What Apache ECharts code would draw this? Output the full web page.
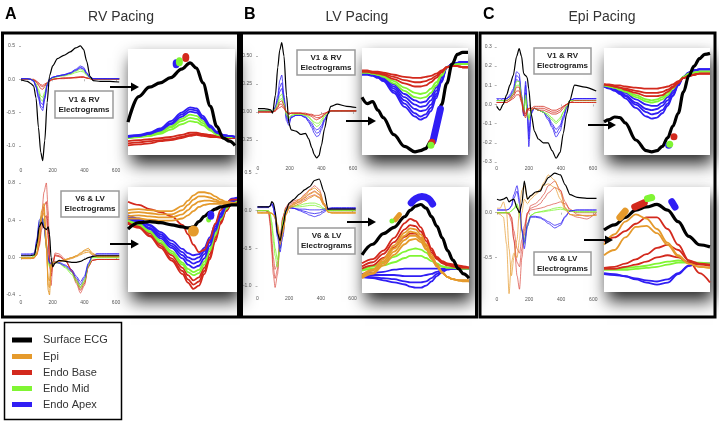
<!DOCTYPE html>
<html><head><meta charset="utf-8">
<script src="https://cdn.jsdelivr.net/npm/echarts@6/dist/echarts.min.js"></script>
<style>html,body{margin:0;padding:0;background:#fff}#c{width:719px;height:422px}</style>
</head><body><div id="c"></div>
<script>
// ---------- legend / categories ----------
const legendNames = ['Surface ECG','Epi','Endo Base','Endo Mid','Endo Apex'];
const panelLetters = ['A','B','C'];
const panelTitles = ['RV Pacing','LV Pacing','Epi Pacing'];
const boxTop = ['V1 & RV','Electrograms'];
const boxBottom = ['V6 & LV','Electrograms'];
const X_TICKS = [0,200,400,600];

// ---------- A top (RV pacing, V1 & RV) ----------
const A1_t = [0,40,60,80,95,110,125,137,150,165,180,200,230,270,310,345,375,395,415,435,455,500,560,620];
const A1_black = [-0.01,-0.03,-0.06,-0.1,-0.28,-0.72,-1.1,-1.22,-0.92,-0.35,0.05,0.2,0.31,0.36,0.41,0.47,0.5,0.45,0.27,0.05,-0.02,-0.03,-0.03,-0.04];
const A1_blue1 = [0.01,0.01,0,-0.03,-0.12,-0.28,-0.43,-0.47,-0.3,-0.1,0,0.03,0.05,0.07,0.1,0.15,0.2,0.18,0.1,0.03,0.01,0.01,0.01,0.01];
const A1_blue2 = [0.01,0.01,0,-0.03,-0.11,-0.26,-0.4,-0.43,-0.28,-0.09,0,0.03,0.05,0.07,0.09,0.14,0.18,0.16,0.09,0.03,0.01,0.01,0.01,0.01];
const A1_blue3 = [0.01,0.01,0,-0.02,-0.1,-0.22,-0.35,-0.38,-0.25,-0.08,0,0.03,0.05,0.06,0.09,0.13,0.17,0.15,0.08,0.03,0.01,0.01,0.01,0.01];
const A1_green1 = [0.01,0.01,0,-0.02,-0.08,-0.18,-0.3,-0.33,-0.22,-0.08,0,0.02,0.04,0.06,0.08,0.12,0.15,0.13,0.07,0.02,0.01,0.01,0.01,0.01];
const A1_green2 = [0.01,0.01,0,-0.02,-0.07,-0.15,-0.25,-0.27,-0.19,-0.07,0,0.02,0.04,0.05,0.07,0.1,0.12,0.11,0.06,0.02,0.01,0.01,0.01,0.01];
const A1_red1 = [0,0,0,-0.01,-0.04,-0.09,-0.14,-0.15,-0.11,-0.06,-0.03,0,0.01,0.02,0.02,0.03,0.04,0.04,0.02,0.01,0,0,0,0];
const A1_red2 = [0,0,0,-0.01,-0.03,-0.07,-0.1,-0.11,-0.09,-0.05,-0.02,0,0.01,0.02,0.02,0.03,0.03,0.03,0.02,0.01,0,0,0,0];
const A1_red3 = [0,0,0,0,-0.02,-0.05,-0.08,-0.09,-0.07,-0.05,-0.02,0,0.01,0.01,0.02,0.02,0.03,0.03,0.02,0.01,0,0,0,0];

// ---------- A bottom (RV pacing, V6 & LV) ----------
const A2_t = [0,60,85,100,115,130,145,160,172,180,190,200,215,240,280,320,350,375,400,425,450,480,540,620];
const A2_black = [0.02,0.02,0.03,0.15,0.33,0.38,0.32,0.3,0.33,0.25,0,-0.1,-0.06,-0.03,-0.04,-0.05,-0.05,-0.04,-0.02,0,0.01,0.02,0.02,0.02];
const A2_blue1 = [0.04,0.04,0.05,0.2,0.4,0.44,0.35,0.15,0,-0.05,-0.06,-0.05,-0.04,-0.05,-0.08,-0.13,-0.2,-0.26,-0.2,-0.06,0.02,0.04,0.04,0.04];
const A2_blue2 = [0.03,0.03,0.04,0.18,0.37,0.41,0.33,0.13,-0.01,-0.06,-0.07,-0.06,-0.05,-0.06,-0.09,-0.15,-0.22,-0.29,-0.22,-0.07,0.02,0.04,0.04,0.04];
const A2_green1 = [0,0,0.02,0.15,0.38,0.45,0.38,0.1,-0.05,-0.1,-0.08,-0.06,-0.05,-0.06,-0.1,-0.16,-0.24,-0.31,-0.24,-0.08,0,0,0,0];
const A2_green2 = [0,0,0.02,0.14,0.35,0.42,0.36,0.12,-0.03,-0.08,-0.07,-0.06,-0.05,-0.06,-0.11,-0.18,-0.26,-0.33,-0.26,-0.09,0,0,0,0];
const A2_red1 = [-0.01,-0.01,0,0.05,0.2,0.45,0.7,0.8,0.5,0,-0.3,-0.1,0.05,0.04,-0.02,-0.15,-0.28,-0.38,-0.3,-0.1,-0.03,-0.02,-0.02,-0.02];
const A2_red2 = [-0.01,-0.01,0,0.04,0.15,0.38,0.55,0.6,0.3,-0.05,-0.2,-0.08,0.03,0.02,-0.03,-0.14,-0.26,-0.35,-0.28,-0.1,-0.03,-0.02,-0.02,-0.02];
const A2_red3 = [-0.01,-0.01,0,0.03,0.12,0.3,0.42,0.45,0.2,-0.08,-0.15,-0.06,0.02,0.01,-0.03,-0.13,-0.24,-0.32,-0.26,-0.09,-0.03,-0.02,-0.02,-0.02];
const A2_orange1 = [0,0,0,0.05,0.25,0.5,0.58,0.2,-0.35,-0.4,-0.1,-0.05,-0.05,-0.04,-0.02,0,0.02,0.05,0.08,0.1,0.05,0.02,0.02,0.02];
const A2_orange2 = [-0.01,-0.01,0,0.04,0.22,0.45,0.52,0.15,-0.3,-0.32,-0.08,-0.05,-0.05,-0.04,-0.02,0,0.02,0.04,0.07,0.08,0.04,0.01,0.01,0.01];
const A2_orange3 = [-0.01,-0.01,0,0.03,0.2,0.42,0.48,0.1,-0.22,-0.25,-0.07,-0.05,-0.05,-0.04,-0.03,-0.01,0.01,0.03,0.05,0.06,0.03,0.01,0.01,0.01];

// ---------- B top (LV pacing, V1 & RV) ----------
const B1_t = [0,40,80,92,110,125,137,150,164,180,195,210,240,270,300,320,340,355,370,385,400,420,440,460,500,560,620];
const B1_black = [0.03,0.03,0.02,-0.01,0.15,0.4,0.55,0.62,0.5,0.15,-0.1,-0.16,-0.17,-0.2,-0.19,-0.24,-0.32,-0.38,-0.41,-0.39,-0.3,-0.15,-0.02,0.05,0.07,0.05,0.04];
const B1_blue1 = [0.01,0.01,0.01,0,0.05,0.15,0.28,0.33,0.15,-0.08,-0.12,-0.05,-0.03,-0.03,-0.05,-0.09,-0.14,-0.19,-0.22,-0.21,-0.16,-0.08,-0.02,0.01,0.01,0.01,0.01];
const B1_blue2 = [0.01,0.01,0.01,0,0.04,0.12,0.22,0.26,0.12,-0.06,-0.1,-0.05,-0.03,-0.03,-0.05,-0.08,-0.12,-0.16,-0.19,-0.18,-0.14,-0.07,-0.02,0.01,0.01,0.01,0.01];
const B1_blue3 = [0.01,0.01,0.01,0,0.04,0.1,0.18,0.21,0.1,-0.04,-0.08,-0.04,-0.03,-0.03,-0.04,-0.07,-0.1,-0.14,-0.16,-0.15,-0.12,-0.06,-0.02,0.01,0.01,0.01,0.01];
const B1_green1 = [0.01,0.01,0.01,0,0.03,0.08,0.14,0.16,0.08,-0.03,-0.06,-0.03,-0.02,-0.02,-0.03,-0.05,-0.08,-0.11,-0.13,-0.12,-0.09,-0.04,-0.01,0.01,0.01,0.01,0.01];
const B1_green2 = [0.01,0.01,0.01,0,0.03,0.07,0.11,0.12,0.06,-0.02,-0.05,-0.03,-0.02,-0.02,-0.03,-0.04,-0.07,-0.09,-0.1,-0.1,-0.07,-0.03,-0.01,0.01,0.01,0.01,0.01];
const B1_red1 = [0,0,0,0,0.02,0.05,0.09,0.1,0.06,0,-0.02,-0.01,-0.01,-0.01,-0.02,-0.03,-0.04,-0.06,-0.07,-0.06,-0.05,-0.02,0,0.01,0.01,0.01,0.01];
const B1_red2 = [0,0,0,0,0.01,0.04,0.07,0.07,0.04,0,-0.02,-0.01,-0.01,-0.01,-0.02,-0.02,-0.03,-0.04,-0.05,-0.05,-0.04,-0.02,0,0.01,0.01,0.01,0.01];
const B1_red3 = [0,0,0,0,0.01,0.03,0.04,0.05,0.03,0,-0.01,-0.01,-0.01,-0.01,-0.01,-0.02,-0.02,-0.03,-0.03,-0.03,-0.02,-0.01,0,0.01,0.01,0.01,0.01];

// ---------- B bottom (LV pacing, V6 & LV) ----------
const B2_t = [0,50,70,80,90,100,111,126,143,160,180,200,230,265,300,330,360,390,420,445,470,520,620];
const B2_black = [0.05,0.05,0.05,0.06,0.12,0.1,0,-0.3,-0.4,-0.2,0,0.1,0.15,0.22,0.28,0.32,0.4,0.42,0.25,0.02,0.02,0.02,0.02];
const B2_red1 = [0,0,-0.02,-0.2,-0.55,-0.85,-1.02,-0.85,-0.4,-0.1,0.05,0.1,0.13,0.15,0.22,0.28,0.33,0.28,0.1,0,0,0,0];
const B2_red2 = [0,0,-0.02,-0.15,-0.45,-0.75,-0.9,-0.78,-0.38,-0.1,0.04,0.08,0.11,0.13,0.18,0.23,0.26,0.22,0.08,0,0,0,0];
const B2_red3 = [0,0,-0.01,-0.1,-0.35,-0.62,-0.78,-0.7,-0.35,-0.08,0.03,0.06,0.09,0.11,0.15,0.19,0.21,0.18,0.07,0,0,0,0];
const B2_green1 = [0,0,0,-0.05,-0.2,-0.4,-0.6,-0.75,-0.5,-0.15,0.02,0.05,0.06,0.07,0.09,0.1,0.1,0.08,0.03,0,0,0,0];
const B2_green2 = [0,0,0,-0.04,-0.15,-0.32,-0.5,-0.65,-0.45,-0.13,0.01,0.04,0.05,0.05,0.06,0.07,0.07,0.05,0.02,0,0,0,0];
const B2_blue1 = [0.05,0.05,0.05,0.07,0.1,0.05,-0.1,-0.35,-0.55,-0.3,0,0.05,0.03,0,-0.03,-0.06,-0.08,-0.06,-0.02,0.02,0.03,0.03,0.03];
const B2_blue2 = [0.04,0.04,0.04,0.06,0.08,0.03,-0.1,-0.3,-0.45,-0.25,0,0.04,0.03,0.01,-0.01,-0.03,-0.04,-0.03,0,0.02,0.03,0.03,0.03];
const B2_blue3 = [0.05,0.05,0.05,0.06,0.09,0.06,-0.05,-0.25,-0.5,-0.35,-0.02,0.03,0.03,0.02,0.02,0.01,0.01,0.01,0.02,0.03,0.04,0.04,0.04];
const B2_orange1 = [-0.03,-0.03,-0.03,-0.03,-0.04,-0.06,-0.1,-0.25,-0.45,-0.3,-0.05,0.05,0.1,0.15,0.2,0.27,0.3,0.25,0.1,-0.02,-0.03,-0.03,-0.03];
const B2_orange2 = [-0.03,-0.03,-0.03,-0.03,-0.04,-0.05,-0.08,-0.22,-0.4,-0.28,-0.05,0.04,0.08,0.12,0.17,0.22,0.25,0.21,0.08,-0.02,-0.03,-0.03,-0.03];
const B2_orange3 = [-0.03,-0.03,-0.03,-0.03,-0.03,-0.05,-0.07,-0.18,-0.35,-0.25,-0.05,0.03,0.06,0.09,0.13,0.17,0.2,0.17,0.07,-0.02,-0.03,-0.03,-0.03];

// ---------- C top (Epi pacing, V1 & RV) ----------
const C1_t = [0,20,40,62,82,103,124,140,155,168,180,190,200,215,235,260,290,320,345,370,395,415,435,455,485,550,620];
const C1_black = [-0.01,-0.03,0,0.05,0.1,0.15,0.25,0.29,0.25,0.16,0.15,0.14,0.08,-0.05,-0.14,-0.18,-0.2,-0.2,-0.24,-0.28,-0.25,-0.15,-0.05,0.02,0.1,0.09,0.07];
const C1_blue1 = [0.03,0.03,0.03,0.03,0.05,0.08,0.17,0.16,0.05,-0.05,0.12,0,-0.22,-0.05,-0.02,-0.03,-0.04,-0.08,-0.12,-0.17,-0.14,-0.08,-0.02,0.02,0.03,0.03,0.03];
const C1_blue2 = [0.03,0.02,0.03,0.03,0.04,0.07,0.15,0.14,0.04,-0.04,0.1,-0.02,-0.18,-0.04,-0.02,-0.03,-0.04,-0.07,-0.11,-0.15,-0.12,-0.07,-0.02,0.02,0.03,0.03,0.03];
const C1_blue3 = [0.02,0.02,0.02,0.03,0.04,0.06,0.13,0.12,0.03,-0.06,0.06,-0.04,-0.14,-0.04,-0.02,-0.03,-0.04,-0.06,-0.1,-0.13,-0.11,-0.06,-0.01,0.02,0.03,0.03,0.03];
const C1_green1 = [0.02,0.02,0.02,0.02,0.03,0.06,0.12,0.12,0.04,-0.03,0.05,-0.05,-0.08,-0.03,-0.02,-0.03,-0.04,-0.06,-0.08,-0.1,-0.08,-0.04,-0.01,0.02,0.02,0.02,0.02];
const C1_green2 = [0.02,0.02,0.02,0.02,0.03,0.05,0.1,0.1,0.03,-0.04,0.03,-0.04,-0.07,-0.03,-0.02,-0.03,-0.04,-0.05,-0.07,-0.09,-0.07,-0.04,-0.01,0.02,0.02,0.02,0.02];
const C1_red1 = [0.01,0.01,0.01,0.02,0.03,0.05,0.09,0.09,0.03,-0.03,-0.05,-0.02,-0.03,-0.03,-0.02,-0.03,-0.03,-0.04,-0.05,-0.05,-0.04,-0.02,0,0.01,0.02,0.02,0.02];
const C1_red2 = [0.01,0.01,0.01,0.01,0.02,0.04,0.07,0.07,0.02,-0.04,-0.06,-0.03,-0.02,-0.02,-0.02,-0.02,-0.02,-0.03,-0.04,-0.04,-0.03,-0.01,0,0.01,0.01,0.01,0.01];
const C1_red3 = [0.01,0.01,0.01,0.01,0.02,0.03,0.05,0.05,0.01,-0.05,-0.07,-0.04,-0.02,-0.02,-0.01,-0.01,-0.01,-0.02,-0.03,-0.03,-0.02,-0.01,0,0.01,0.01,0.01,0.01];

// ---------- C bottom (Epi pacing, V6 & LV) ----------
const C2_t = [0,20,40,60,75,90,105,125,140,155,170,190,210,240,270,290,320,360,395,425,455,500,560,620];
const C2_black = [0.15,0.14,0.15,0.17,0.12,0.14,0.15,0.05,0,0.1,0.35,0.15,0.19,0.23,0.24,0.31,0.39,0.44,0.42,0.31,0.2,0.17,0.16,0.16];
const C2_blue1 = [0.03,0.03,0.03,0.03,0.04,0.08,0.2,0.3,0.15,-0.2,-0.4,-0.15,-0.05,-0.05,-0.06,-0.08,-0.12,-0.17,-0.14,-0.05,0.02,0.03,0.03,0.03];
const C2_blue2 = [0.03,0.03,0.03,0.03,0.04,0.07,0.16,0.24,0.1,-0.18,-0.33,-0.12,-0.04,-0.04,-0.05,-0.07,-0.1,-0.14,-0.12,-0.04,0.02,0.03,0.03,0.03];
const C2_green1 = [0,0,0,0,0,0.02,0.05,0.1,0,-0.2,-0.35,-0.15,-0.03,0,0.01,0.02,0.03,0.05,0.06,0.04,0.02,0.01,0.01,0.01];
const C2_green2 = [0,0,0,0,0,0.02,0.04,0.08,-0.02,-0.2,-0.3,-0.12,-0.03,0,0.01,0.01,0.02,0.03,0.04,0.03,0.02,0.01,0.01,0.01];
const C2_red1 = [0,0,0,0,0,-0.05,-0.3,-0.7,-0.85,-0.5,-0.25,-0.02,0.08,0.1,0.15,0.2,0.3,0.35,0.25,0.05,-0.02,-0.05,-0.07,0];
const C2_red2 = [0,0,0,0,-0.02,-0.1,-0.3,-0.55,-0.6,-0.4,-0.2,0,0.05,0.07,0.1,0.15,0.22,0.28,0.25,0.12,0.02,0,0,0];
const C2_red3 = [0,0,0,0,-0.01,-0.05,-0.2,-0.4,-0.45,-0.3,-0.15,0,0.03,0.04,0.05,0.06,0.08,0.1,0.12,0.1,0.04,-0.02,-0.04,-0.02];
const C2_orange1 = [0,-0.02,-0.05,-0.35,-0.9,-0.55,-0.45,-0.5,-0.3,0,0.15,0.1,0.15,0.2,0.25,0.33,0.42,0.36,0.22,0.06,-0.02,-0.03,-0.03,-0.03];
const C2_orange2 = [0.05,0.05,0.12,0,-0.4,-0.7,-0.5,-0.3,0.05,0.25,0.3,0.15,0.18,0.22,0.26,0.3,0.32,0.28,0.15,0.03,-0.02,-0.03,-0.03,-0.03];

// ---------- zoomed insets (normalised 0-100 coordinates) ----------
const IA1_u = [0,10,20,30,40,50,58,64,70,77,83,89,95,100];
const IA1_black = [31,55,64,68,73,81,87,82,68,46,27,16,13,9];
const IA1_blue1 = [18,19,21,25,32,40,45,44,37,28,22,19,18,17];
const IA1_blue2 = [17,18,20,24,30,38,43,42,35,27,21,19,18,17];
const IA1_blue3 = [17,18,20,23,29,36,41,40,34,26,21,18,18,17];
const IA1_green1 = [17,18,19,22,27,34,38,37,32,25,20,18,17,17];
const IA1_green2 = [16,17,18,21,26,32,35,34,30,24,20,18,17,17];
const IA1_green3 = [16,17,18,20,24,29,32,31,28,23,19,18,17,17];
const IA1_red1 = [13,14,15,16,17,19,21,21,20,19,18,17,17,17];
const IA1_red2 = [11,12,13,14,15,17,19,20,19,18,17,17,16,16];
const IA1_red3 = [9,10,11,13,14,16,18,19,18,17,17,16,16,16];
const IA1_dotBlue = [45,86], IA1_dotGreen = [48,88], IA1_dotRed = [54,92];

const IA2_u = [0,10,20,30,40,50,55,60,65,70,75,80,85,90,95,100];
const IA2_black = [60,66,67,66,64,62,61,62,67,72,76,79,81,82,83,83];
const IA2_orange1 = [78,79,78,77,77,82,87,92,95,95,94,91,88,86,85,84];
const IA2_orange2 = [75,76,75,74,74,78,83,88,91,91,90,88,86,85,84,84];
const IA2_orange3 = [72,73,72,71,71,74,78,83,86,87,87,86,85,84,84,84];
const IA2_orange4 = [70,70,69,68,68,70,73,77,81,83,84,84,84,84,84,84];
const IA2_red1 = [86,83,79,76,72,64,55,45,38,40,50,65,78,85,88,88];
const IA2_blue1 = [73,70,64,57,49,41,37,35,36,42,52,64,75,84,89,90];
const IA2_blue2 = [72,69,63,55,46,38,33,31,33,39,49,62,74,83,88,89];
const IA2_blue3 = [71,68,61,53,44,35,30,27,29,36,47,60,72,82,87,88];
const IA2_blue4 = [70,67,60,51,42,32,26,23,25,32,44,58,71,81,86,88];
const IA2_green1 = [69,65,58,49,39,28,22,19,21,29,41,56,70,80,85,87];
const IA2_green2 = [68,64,57,47,37,26,19,16,18,26,39,54,69,79,85,87];
const IA2_red2 = [67,63,56,46,35,23,16,11,14,23,36,52,67,78,84,86];
const IA2_red3 = [66,62,54,44,32,20,12,7,10,20,33,50,66,77,84,86];
const IA2_red4 = [65,61,53,42,30,17,9,3,6,17,31,48,65,77,84,86];
const IA2_dotEpi = [60,58], IA2_dotGreen = [74,69], IA2_dotBlue = [76,73];

const IB1_u = [0,5,10,15,20,30,40,50,55,60,65,70,75,80,85,90,95,100];
const IB1_black = [54,48,50,42,35,19,8,3,4,6,13,26,47,67,85,94,96,96];
const IB1_red1 = [79,79,78,78,77,75,73,72,72,73,74,76,79,82,83,83,82,82];
const IB1_red2 = [78,78,77,77,76,73,70,68,68,69,71,74,78,82,83,83,82,82];
const IB1_red3 = [78,78,77,76,75,71,67,64,64,65,68,72,77,82,83,83,82,82];
const IB1_green1 = [77,77,76,75,74,69,63,58,57,58,62,68,75,82,84,85,85,85];
const IB1_green2 = [77,77,76,75,73,67,60,54,53,54,58,65,74,82,84,85,85,85];
const IB1_blue1 = [77,77,76,75,73,66,57,51,49,50,55,63,73,82,85,86,87,87];
const IB1_blue2 = [76,76,75,74,72,64,54,47,45,46,51,60,72,82,85,86,87,87];
const IB1_blue3 = [76,76,75,74,71,62,51,43,41,42,47,57,70,82,85,86,87,87];
const IB1_blue4 = [76,76,75,73,70,60,48,39,36,38,44,55,69,82,85,86,87,87];
const IB1_blue5 = [75,75,74,72,69,58,45,36,33,35,41,53,68,82,85,86,87,87];
const IB1_streakBlue = [[74,43],[67,13]];
const IB1_dotRed = [66,12], IB1_dotGreen = [65,9];

const IB2_u = [0,10,20,30,40,45,50,55,60,65,70,75,80,85,90,95,100];
const IB2_black = [36,46,56,62,72,78,82,83.5,80,72,63,52,40,31,23,18,14];
const IB2_red1 = [28,32,40,52,66,70,68,62,52,42,34,30,28,27,26,25,24];
const IB2_red2 = [25,29,37,48,60,64,63,58,49,40,33,29,27,26,25,24,24];
const IB2_red3 = [23,26,33,43,53,56,56,52,45,38,32,28,26,25,24,24,24];
const IB2_orange1 = [17,22,32,45,57,61,60,55,46,36,27,20,15,13,12,12,12];
const IB2_orange2 = [16,21,30,42,54,58,57,52,44,34,26,19,15,13,12,12,12];
const IB2_orange3 = [15,19,28,39,50,54,54,50,42,33,25,19,15,13,12,12,11];
const IB2_orange4 = [14,18,26,36,46,50,51,48,41,32,25,19,15,13,12,11,11];
const IB2_green1 = [22,25,29,34,39,41,42,41,38,33,28,25,24,24,23,23,23];
const IB2_green2 = [21,23,26,29,33,35,35,35,33,30,27,25,24,24,23,23,23];
const IB2_blue1 = [18,19,20,22,23,23,23,23,23,23,23,23,23,23,23,23,23];
const IB2_blue2 = [17,17,17,17,16,16,16,16,17,18,20,22,23,23,23,23,23];
const IB2_blue3 = [16,15,14,13,11,10,10,10,11,14,18,21,23,23,23,23,23];
const IB2_blue4 = [15,14,12,10,8,6,5,5,7,11,16,20,22,23,23,23,23];
const IB2_arcBlue = [[46,85],[50,89],[56,91],[62,89],[66,84]];
const IB2_pillEpi = [[31,69],[35,74]];
const IB2_dotGreen = [28,68];

const IC1_u = [0,5,10,15,20,30,40,45,50,55,60,65,70,75,80,85,90,95,100];
const IC1_black = [31,33,35.5,35,30,14,4,3,4,8,16,27,39,59,74,83,90,94,95];
const IC1_red1 = [66,66,65,65,64,63,62,62,62,63,64,66,69,72,74,75,76,76,76];
const IC1_red2 = [66,65,64,63,62,60,58,58,58,59,61,64,68,72,74,75,76,76,76];
const IC1_red3 = [66,65,64,63,61,58,55,55,55,56,59,63,67,72,74,75,76,76,76];
const IC1_green1 = [65,64,63,62,60,56,52,51,52,54,58,63,68,73,76,77,78,78,78];
const IC1_green2 = [65,64,63,61,59,54,50,49,50,52,56,62,68,73,76,77,78,78,78];
const IC1_blue1 = [65,64,62,60,58,52,47,46,46,49,54,60,67,73,77,79,80,80,80];
const IC1_blue2 = [65,63,61,59,56,49,43,42,43,46,51,58,66,73,77,79,80,80,80];
const IC1_blue3 = [64,63,61,58,55,47,40,38,39,42,48,56,65,73,77,79,80,80,80];
const IC1_blue4 = [64,62,60,57,53,44,36,34,35,39,46,55,65,73,77,79,80,80,80];
const IC1_dotBlue = [61,9], IC1_dotGreen = [62,10], IC1_dotRed = [66,17];

const IC2_u = [0,10,20,30,40,50,60,70,80,90,100];
const IC2_black = [59,64,71,78,81,83.5,78,67,53,45,43];
const IC2_orange1 = [45,55,67,74,70,60,47,35,27,24,23];
const IC2_orange2 = [35,40,52,62,63,56,45,34,27,24,23];
const IC2_red1 = [48,52,58,65,71,71,60,45,30,18,9];
const IC2_red2 = [23,24,27,31,36,42,45,40,30,27,26];
const IC2_red3 = [22,22,24,26,29,33,35,33,28,26,25];
const IC2_green1 = [22,22,23,24,25,27,29,30,29,28,27];
const IC2_green2 = [21,21,21,22,23,24,26,28,28,27,27];
const IC2_blue1 = [18,17,15,12,9,7,9,17,25,27,27];
const IC2_blue2 = [17,16,15,13,11,10,12,18,25,27,27];
const IC2_pillEpi = [[15,71],[20,77]];
const IC2_pillRed = [[29,81],[38,85]];
const IC2_pillGreen = [[41,89],[45,90]];
const IC2_pillBlue = [[64,86],[67,81]];

// ---------- build ----------
const FONT = '"Liberation Sans", Arial, Helvetica, sans-serif';
const K = '#000000', EPI = '#E59A2C', BASE = '#D3291D', MID = '#80F533', APEX = '#301EF4';
const legendColors = [K, EPI, BASE, MID, APEX];
const grid = [], xAxis = [], yAxis = [], series = [];
const zip = (t, v) => t.map((x, i) => [x, v[i]]);

function mainPlot(rect, yr, ticks, dec, xm, ym, lines) {
  const gi = grid.length;
  grid.push({left: rect[0], top: rect[1], width: rect[2], height: rect[3], show: false});
  xAxis.push({gridIndex: gi, type: 'value', min: 0, max: 620,
    axisLine: {show: false}, splitLine: {show: false},
    axisTick: {show: true, length: 2, lineStyle: {color: '#888', width: 0.6}, customValues: X_TICKS},
    axisLabel: {fontSize: 5, color: '#555', margin: xm, fontFamily: FONT, customValues: X_TICKS}});
  yAxis.push({gridIndex: gi, type: 'value', min: yr[0], max: yr[1],
    axisLine: {show: false}, splitLine: {show: false},
    axisTick: {show: true, length: 2, lineStyle: {color: '#888', width: 0.6}, customValues: ticks},
    axisLabel: {fontSize: 5, color: '#555', margin: ym, fontFamily: FONT, customValues: ticks,
      formatter: v => Number(v).toFixed(dec)}});
  lines.forEach(([t, v, c, w]) => series.push({type: 'line', xAxisIndex: gi, yAxisIndex: gi,
    data: zip(t, v), showSymbol: false, smooth: 0.25, smoothMonotone: 'x', silent: true, animation: false,
    z: c === K ? 6 : 4, lineStyle: {color: c, width: w}}));
}

function inset(rect, u, lines, marks) {
  const gi = grid.length;
  grid.push({left: rect[0], top: rect[1], width: rect[2], height: rect[3], show: true,
    backgroundColor: '#ffffff', borderWidth: 0,
    shadowColor: 'rgba(0,0,0,0.85)', shadowBlur: 16, shadowOffsetX: 3, shadowOffsetY: 9});
  xAxis.push({gridIndex: gi, type: 'value', min: 0, max: 100, show: false});
  yAxis.push({gridIndex: gi, type: 'value', min: 0, max: 100, show: false});
  lines.forEach(([v, c, w]) => series.push({type: 'line', xAxisIndex: gi, yAxisIndex: gi,
    data: zip(u, v), showSymbol: false, smooth: 0.35, smoothMonotone: 'x', silent: true, animation: false,
    z: c === K ? 6 : 4, lineStyle: {color: c, width: w}}));
  marks.forEach(m => {
    if (m.dot) series.push({type: 'scatter', xAxisIndex: gi, yAxisIndex: gi, data: [m.dot],
      symbolSize: m.size, itemStyle: {color: m.color, opacity: 1}, silent: true, animation: false, z: 8});
    else series.push({type: 'line', xAxisIndex: gi, yAxisIndex: gi, data: m.path, showSymbol: false,
      smooth: 0.4, silent: true, animation: false, z: 8,
      lineStyle: {color: m.color, width: m.width, cap: 'round'}});
  });
}

const w0 = 0.8, wk = 1.2;
mainPlot([21, 39.3, 98.2, 126.7], [-1.3, 0.6], [-1, -0.5, 0, 0.5], 1, 2, 6, [
  [A1_t, A1_red1, BASE, w0], [A1_t, A1_red2, BASE, w0], [A1_t, A1_red3, BASE, w0],
  [A1_t, A1_green1, MID, w0], [A1_t, A1_green2, MID, w0],
  [A1_t, A1_blue1, APEX, w0], [A1_t, A1_blue2, APEX, w0], [A1_t, A1_blue3, APEX, w0],
  [A1_t, A1_black, K, wk]]);
mainPlot([21, 178.3, 98.2, 121.3], [-0.45, 0.85], [-0.4, 0, 0.4, 0.8], 1, 1, 6, [
  [A2_t, A2_red1, BASE, 0.6], [A2_t, A2_red2, BASE, w0], [A2_t, A2_red3, BASE, w0],
  [A2_t, A2_green1, MID, w0], [A2_t, A2_green2, MID, w0],
  [A2_t, A2_blue1, APEX, w0], [A2_t, A2_blue2, APEX, w0],
  [A2_t, A2_orange1, EPI, 1], [A2_t, A2_orange2, EPI, 1], [A2_t, A2_orange3, EPI, 1],
  [A2_t, A2_black, K, wk]]);
mainPlot([258, 38.1, 98.2, 124.3], [-0.45, 0.66], [-0.25, 0, 0.25, 0.5], 2, 4, 6, [
  [B1_t, B1_blue1, APEX, w0], [B1_t, B1_blue2, APEX, w0], [B1_t, B1_blue3, APEX, w0],
  [B1_t, B1_green1, MID, w0], [B1_t, B1_green2, MID, w0],
  [B1_t, B1_red1, BASE, w0], [B1_t, B1_red2, BASE, w0], [B1_t, B1_red3, BASE, w0],
  [B1_t, B1_black, K, wk]]);
mainPlot([257.5, 169.2, 98.2, 124.3], [-1.1, 0.55], [-1, -0.5, 0, 0.5], 1, 3, 6, [
  [B2_t, B2_red1, BASE, 0.6], [B2_t, B2_red2, BASE, 0.6], [B2_t, B2_red3, BASE, 0.6],
  [B2_t, B2_green1, MID, w0], [B2_t, B2_green2, MID, w0],
  [B2_t, B2_blue1, APEX, w0], [B2_t, B2_blue2, APEX, w0], [B2_t, B2_blue3, APEX, w0],
  [B2_t, B2_orange1, EPI, 1], [B2_t, B2_orange2, EPI, 1], [B2_t, B2_orange3, EPI, 1],
  [B2_t, B2_black, K, wk]]);
mainPlot([496.7, 41, 99.5, 123], [-0.31, 0.33], [-0.3, -0.2, -0.1, 0, 0.1, 0.2, 0.3], 1, 2, 5, [
  [C1_t, C1_blue1, APEX, w0], [C1_t, C1_blue2, APEX, w0], [C1_t, C1_blue3, APEX, w0],
  [C1_t, C1_green1, MID, w0], [C1_t, C1_green2, MID, w0],
  [C1_t, C1_red1, BASE, w0], [C1_t, C1_red2, BASE, w0], [C1_t, C1_red3, BASE, w0],
  [C1_t, C1_black, K, wk]]);
mainPlot([497, 170.4, 99.5, 126], [-0.93, 0.47], [-0.5, 0], 1, 1, 5, [
  [C2_t, C2_red1, BASE, 0.6], [C2_t, C2_red2, BASE, 0.6], [C2_t, C2_red3, BASE, 0.6],
  [C2_t, C2_green1, MID, w0], [C2_t, C2_green2, MID, w0],
  [C2_t, C2_blue1, APEX, w0], [C2_t, C2_blue2, APEX, w0],
  [C2_t, C2_orange1, EPI, 0.7], [C2_t, C2_orange2, EPI, 0.7],
  [C2_t, C2_black, K, wk]]);

const ik = 3.2, ic = 1.8;
inset([128, 49, 107, 106], IA1_u, [
  [IA1_red1, BASE, ic], [IA1_red2, BASE, ic], [IA1_red3, BASE, ic],
  [IA1_green1, MID, ic], [IA1_green2, MID, ic], [IA1_green3, MID, ic],
  [IA1_blue1, APEX, ic], [IA1_blue2, APEX, ic], [IA1_blue3, APEX, ic],
  [IA1_black, K, ik]], [
  {dot: IA1_dotBlue, color: APEX, size: [7, 9]}, {dot: IA1_dotGreen, color: MID, size: [7, 9]},
  {dot: IA1_dotRed, color: BASE, size: [7, 9]}]);
inset([128, 187, 109, 105], IA2_u, [
  [IA2_red4, BASE, ic], [IA2_red3, BASE, ic], [IA2_red2, BASE, ic],
  [IA2_green2, MID, ic], [IA2_green1, MID, ic],
  [IA2_blue4, APEX, ic], [IA2_blue3, APEX, ic], [IA2_blue2, APEX, ic], [IA2_blue1, APEX, ic],
  [IA2_red1, BASE, ic], [IA2_black, K, ik],
  [IA2_orange4, EPI, ic], [IA2_orange3, EPI, ic], [IA2_orange2, EPI, ic], [IA2_orange1, EPI, ic]], [
  {dot: IA2_dotEpi, color: EPI, size: [11, 11]}, {dot: IA2_dotGreen, color: MID, size: [5, 6]},
  {dot: IA2_dotBlue, color: APEX, size: [7, 9]}]);
inset([362, 48, 106, 107], IB1_u, [
  [IB1_blue5, APEX, ic], [IB1_blue4, APEX, ic], [IB1_blue3, APEX, ic], [IB1_blue2, APEX, ic], [IB1_blue1, APEX, ic],
  [IB1_green2, MID, ic], [IB1_green1, MID, ic],
  [IB1_red3, BASE, ic], [IB1_red2, BASE, ic], [IB1_red1, BASE, ic],
  [IB1_black, K, ik]], [
  {dot: IB1_dotRed, color: BASE, size: 7}, {dot: IB1_dotGreen, color: MID, size: 7},
  {path: IB1_streakBlue, color: APEX, width: 7}]);
inset([362, 187, 107, 106], IB2_u, [
  [IB2_blue4, APEX, ic], [IB2_blue3, APEX, ic], [IB2_blue2, APEX, ic], [IB2_blue1, APEX, ic],
  [IB2_green2, MID, ic], [IB2_green1, MID, ic],
  [IB2_red3, BASE, ic], [IB2_red2, BASE, ic], [IB2_red1, BASE, ic],
  [IB2_orange4, EPI, ic], [IB2_orange3, EPI, ic], [IB2_orange2, EPI, ic], [IB2_orange1, EPI, ic],
  [IB2_black, K, ik]], [
  {path: IB2_arcBlue, color: APEX, width: 7}, {dot: IB2_dotGreen, color: MID, size: 5},
  {path: IB2_pillEpi, color: EPI, width: 5}]);
inset([604, 48, 106, 107], IC1_u, [
  [IC1_blue4, APEX, ic], [IC1_blue3, APEX, ic], [IC1_blue2, APEX, ic], [IC1_blue1, APEX, ic],
  [IC1_green2, MID, ic], [IC1_green1, MID, ic],
  [IC1_red3, BASE, ic], [IC1_red2, BASE, ic], [IC1_red1, BASE, ic],
  [IC1_black, K, ik]], [
  {dot: IC1_dotBlue, color: APEX, size: 7}, {dot: IC1_dotGreen, color: MID, size: 7},
  {dot: IC1_dotRed, color: BASE, size: 7}]);
inset([604, 187, 106, 105], IC2_u, [
  [IC2_blue2, APEX, ic], [IC2_blue1, APEX, ic],
  [IC2_green2, MID, ic], [IC2_green1, MID, ic],
  [IC2_red3, BASE, ic], [IC2_red2, BASE, ic], [IC2_red1, BASE, ic],
  [IC2_orange2, EPI, ic], [IC2_orange1, EPI, ic],
  [IC2_black, K, ik]], [
  {path: IC2_pillEpi, color: EPI, width: 7}, {path: IC2_pillRed, color: BASE, width: 7},
  {path: IC2_pillGreen, color: MID, width: 7}, {path: IC2_pillBlue, color: APEX, width: 7}]);

// ---------- graphics: frames, titles, boxes, arrows, legend ----------
const G = [];
const panelFrames = [[2.5, 33, 236, 284], [241.5, 33, 235, 284], [480, 33, 235, 284]];
const letterX = [5, 244, 483], titleX = [121, 357, 602];
panelFrames.forEach((r, i) => {
  G.push({type: 'rect', z: 100, shape: {x: r[0], y: r[1], width: r[2], height: r[3]},
    style: {fill: 'none', stroke: '#000', lineWidth: 3}});
  G.push({type: 'text', z: 100, style: {text: panelLetters[i], x: letterX[i], y: 14.5,
    font: 'bold 16px ' + FONT, fill: '#000', textVerticalAlign: 'middle', verticalAlign: 'middle'}});
  G.push({type: 'text', z: 100, style: {text: panelTitles[i], x: titleX[i], y: 17,
    font: '14px ' + FONT, fill: '#333', textAlign: 'center', align: 'center',
    textVerticalAlign: 'middle', verticalAlign: 'middle'}});
});
const boxes = [[55, 91, 58, 27, boxTop], [61, 191, 58, 26, boxBottom], [297, 50, 58, 25, boxTop],
  [298, 228, 57, 26, boxBottom], [534, 48, 57, 26, boxTop], [534, 252, 57, 23, boxBottom]];
boxes.forEach(([x, y, w, h, txt]) => {
  G.push({type: 'rect', z: 100, shape: {x, y, width: w, height: h},
    style: {fill: '#fff', stroke: '#9a9a9a', lineWidth: 1.5}});
  txt.forEach((s, k) => G.push({type: 'text', z: 101, style: {text: s, x: x + w / 2,
    y: y + h / 2 + (k === 0 ? -5 : 5), font: 'bold 8px ' + FONT, fill: '#222',
    textAlign: 'center', align: 'center', textVerticalAlign: 'middle', verticalAlign: 'middle'}}));
});
const arrows = [[110, 139, 87], [110, 139, 244], [346, 376, 121], [347, 376, 222], [588, 616, 125], [584, 613, 240]];
arrows.forEach(([x1, x2, y]) => {
  G.push({type: 'line', z: 102, shape: {x1, y1: y, x2: x2 - 6, y2: y}, style: {stroke: '#000', lineWidth: 2}});
  G.push({type: 'polygon', z: 102, shape: {points: [[x2, y], [x2 - 8, y - 4.5], [x2 - 8, y + 4.5]]},
    style: {fill: '#000'}});
});
G.push({type: 'rect', z: 100, shape: {x: 4.5, y: 322.5, width: 117, height: 97},
  style: {fill: '#fff', stroke: '#000', lineWidth: 1.5}});
const legY = [340, 356.5, 372.5, 388.5, 404.5];
legendNames.forEach((n, i) => {
  G.push({type: 'rect', z: 101, shape: {x: 12, y: legY[i] - 2.5, width: 20, height: 5},
    style: {fill: legendColors[i]}});
  G.push({type: 'text', z: 101, style: {text: n, x: 43, y: legY[i], font: '11px ' + FONT, fill: '#333',
    textVerticalAlign: 'middle', verticalAlign: 'middle'}});
});

const chart = echarts.init(document.getElementById('c'), null, {renderer: 'canvas'});
chart.setOption({
  backgroundColor: '#ffffff', animation: false,
  textStyle: {fontFamily: FONT},
  grid, xAxis, yAxis, series, graphic: G
});
</script></body></html>
